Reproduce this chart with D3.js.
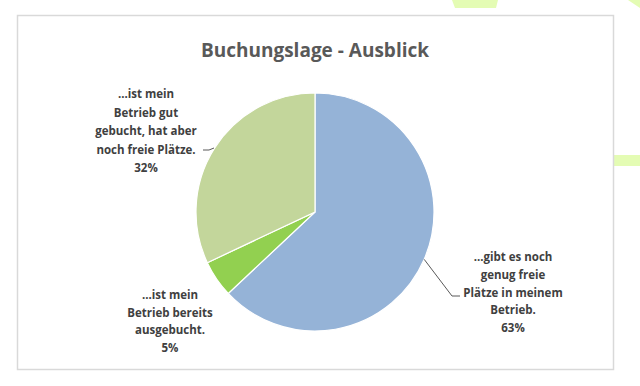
<!DOCTYPE html>
<html>
<head>
<meta charset="utf-8">
<script src="https://cdn.jsdelivr.net/npm/d3@7"></script>
<style>
  body { margin: 0; background: #fff; }
  text { font-family: "Open Sans", "Noto Sans", sans-serif; fill: #404040; }
</style>
</head>
<body>
<svg id="pie-chart"></svg>
<script>
const categories = [
    "...gibt es noch genug freie Plätze in meinem Betrieb.",
    "...ist mein Betrieb bereits ausgebucht.",
    "...ist mein Betrieb gut gebucht, hat aber noch freie Plätze."
];
const values = [63, 5, 32];
const colors = ["#95b3d7", "#92d050", "#c3d69b"];
const labelLines = [
    ["...gibt es noch", "genug freie", "Plätze in meinem", "Betrieb.", "63%"],
    ["...ist mein", "Betrieb bereits", "ausgebucht.", "5%"],
    ["...ist mein", "Betrieb gut", "gebucht, hat aber", "noch freie Plätze.", "32%"]
];

const width = 640, height = 386;
const cx = 315, cy = 212, radius = 119;

const svg = d3.select("#pie-chart")
    .attr("width", width)
    .attr("height", height);

// light green decoration behind the chart
svg.append("path")
    .attr("d", "M452,0 L498,0 L496,8 L455,8 Z")
    .attr("fill", "#e4fcb4");
svg.append("path")
    .attr("d", "M628,0 L640,0 L640,8 Z")
    .attr("fill", "#e4fcb4");
svg.append("path")
    .attr("d", "M614,155 L640,155 L640,166 L614,166 Z")
    .attr("fill", "#e4fcb4");

// chart frame
svg.append("rect")
    .attr("x", 17.5)
    .attr("y", 15.5)
    .attr("width", 596)
    .attr("height", 354)
    .attr("fill", "#fff")
    .attr("stroke", "#d9d9d9")
    .attr("stroke-width", 1.5);

svg.append("text")
    .attr("x", 315)
    .attr("y", 57)
    .attr("text-anchor", "middle")
    .style("font-size", "19px")
    .style("font-weight", "bold")
    .style("fill", "#595959")
    .text("Buchungslage - Ausblick");

const pie = d3.pie().sort(null).value(d => d)
    .startAngle(0).endAngle(2 * Math.PI);
const arc = d3.arc().innerRadius(0).outerRadius(radius);
const arcs = pie(values);

const g = svg.append("g")
    .attr("transform", `translate(${cx},${cy})`);

g.selectAll(".slice")
    .data(arcs)
    .enter().append("path")
    .attr("class", "slice")
    .attr("d", arc)
    .attr("fill", (d, i) => colors[i])
    .attr("stroke", "#fff")
    .attr("stroke-width", 1.2);

// label anchor positions (center x, first line y) and line spacing
const labelPos = [
    { x: 513, y: 261, dy: 17.8 },
    { x: 170, y: 299, dy: 17.5 },
    { x: 146, y: 98, dy: 18.5 }
];

svg.selectAll(".label")
    .data(labelLines)
    .enter().append("text")
    .attr("class", "label")
    .attr("text-anchor", "middle")
    .style("font-size", "11.5px")
    .style("font-weight", "bold")
    .each(function(lines, i) {
        const t = d3.select(this);
        lines.forEach((line, j) => {
            t.append("tspan")
                .attr("x", labelPos[i].x)
                .attr("y", labelPos[i].y + j * labelPos[i].dy)
                .text(line);
        });
    });

// leader lines, from slice edge to label
const line = d3.line();
const edgeAngle = 1.98;
const edge63 = [cx + radius * Math.sin(edgeAngle), cy - radius * Math.cos(edgeAngle)];
svg.append("path")
    .attr("d", line([edge63, [452, 296], [460, 296]]))
    .attr("fill", "none")
    .attr("stroke", "#595959")
    .attr("stroke-width", 1);

svg.append("path")
    .attr("d", line([[203, 150], [209, 150], [214, 148]]))
    .attr("fill", "none")
    .attr("stroke", "#595959")
    .attr("stroke-width", 1);
</script>
</body>
</html>
